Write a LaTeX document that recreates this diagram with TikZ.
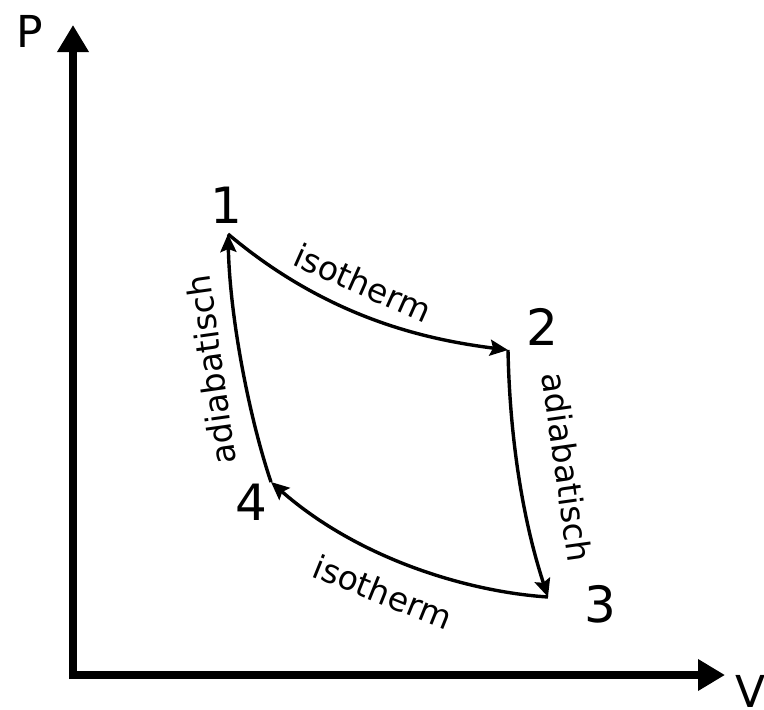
\documentclass[tikz,border=0pt]{standalone}
\usepackage{fontspec}
\setmainfont{DejaVu Sans}
\usetikzlibrary{arrows.meta}
\begin{document}
\begin{tikzpicture}[x=1pt,y=-1pt,
  axis/.style={line width=8pt,-{Triangle[length=27pt,width=30pt]}},
  proc/.style={line width=3.4pt,-{Stealth[length=18pt,width=16pt,inset=3pt]}},
  num/.style={font=\fontsize{50}{50}\selectfont,inner sep=0pt},
  lab/.style={font=\fontsize{33}{33}\selectfont,inner sep=0pt},
  axlab/.style={font=\fontsize{44}{44}\selectfont,inner sep=0pt}]
\useasboundingbox (0,0) rectangle (764,710);
\coordinate (O) at (73,675);
\coordinate (Ptip) at (73,25);
\coordinate (Vtip) at (725,675);
\draw[axis] (O |- 0,679) -- (Ptip);
\draw[axis] (69,675) -- (Vtip);
\node[axlab] (P) at (30,31) {P};
\node[axlab,anchor=north west] (V) at (735,675) {V};
\coordinate (p1) at (228,234);
\coordinate (p2) at (508,350);
\coordinate (p3) at (548,597);
\coordinate (p4) at (271,482);
\draw[proc] (p1) .. controls (330,320) and (430,340) .. (p2);
\draw[proc] (p2) .. controls (510,450) and (526,530) .. (p3);
\draw[proc] (p3) .. controls (470,592) and (360,560) .. (p4);
\draw[proc] (p4) .. controls (250,420) and (230,320) .. (p1);
\node[num] (n1) at (226,205) {1};
\node[num] (n2) at (542,327) {2};
\node[num] (n3) at (600,604) {3};
\node[num] (n4) at (251,502) {4};
\node[lab,rotate=-24] (t1) at (363,283) {isotherm};
\node[lab,rotate=-22] (t2) at (383,592) {isotherm};
\node[lab,rotate=98] (a1) at (211,370) {adiabatisch};
\node[lab,rotate=-82] (a2) at (567,467) {adiabatisch};
\end{tikzpicture}
\end{document}
